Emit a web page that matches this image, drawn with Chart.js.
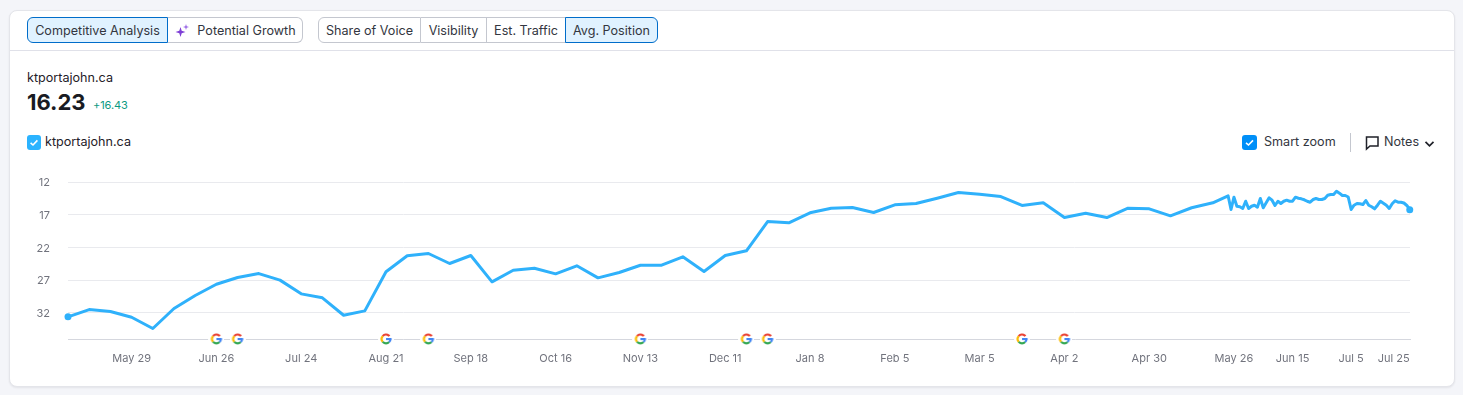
<!DOCTYPE html>
<html><head><meta charset="utf-8">
<script src="https://cdn.jsdelivr.net/npm/chart.js@4"></script>
<style>
html,body{margin:0;padding:0;width:1463px;height:395px;overflow:hidden;background:#f4f5f9;font-family:Inter,"Noto Sans",sans-serif;color:#1f2129}
.card{position:absolute;left:9px;top:10px;width:1444px;height:375px;background:#fff;border:1px solid #e4e5ea;border-radius:8px;box-shadow:0 1px 2px rgba(25,27,35,.08)}
.divider{position:absolute;left:10px;top:50px;width:1444px;height:1px;background:#e0e1e9}
.group{position:absolute;top:17px;height:26px;display:flex;font-size:12.6px;color:#333640}
.btn{box-sizing:border-box;height:26px;line-height:25px;border:1px solid #c4c7cf;border-left-width:0;text-align:center;background:#fff;white-space:nowrap}
.btn:first-child{border-left-width:1px;border-radius:6px 0 0 6px}
.btn:last-child{border-radius:0 6px 6px 0}
.btn.on{background:#e0f2ff;border:1px solid #006dca;margin-left:-1px}
.btn.on:first-child{margin-left:0}
.t{position:absolute;white-space:nowrap;line-height:1}
canvas{position:absolute;left:0;top:0}
</style></head><body>
<div class="card"></div><div class="divider"></div>
<div class="group" style="left:27px">
  <div class="btn on" style="width:141px">Competitive Analysis</div>
  <div class="btn" style="width:135px;padding-left:23px;position:relative"><svg style="position:absolute;left:7px;top:5px" width="15" height="15" viewBox="0 0 15 15"><path d="M5.5 4 L6.7 7.8 L10.5 9 L6.7 10.2 L5.5 14 L4.3 10.2 L.5 9 L4.3 7.8Z" fill="#7e3fd6"/><path d="M11 1 L11.7 3.3 L14 4 L11.7 4.7 L11 7 L10.3 4.7 L8 4 L10.3 3.3Z" fill="#9a68e6"/></svg>Potential Growth</div>
</div>
<div class="group" style="left:318px">
  <div class="btn" style="width:103px">Share of Voice</div>
  <div class="btn" style="width:66px">Visibility</div>
  <div class="btn" style="width:79px">Est. Traffic</div>
  <div class="btn on" style="width:93px">Avg. Position</div>
</div>
<div class="t" style="left:27px;top:72px;font-size:12.6px">ktportajohn.ca</div>
<div class="t" style="left:27px;top:91px;font-size:22px;font-weight:700;color:#191b23">16.23</div>
<div class="t" style="left:93px;top:100px;font-size:11px;letter-spacing:-.1px;color:#0b9a82">+16.43</div>
<svg style="position:absolute;left:27px;top:135px" width="14" height="15"><rect width="14" height="15" rx="3" fill="#2bb3ff"/><path d="M3.6 7.8 L6 10 L10.4 5.4" fill="none" stroke="#fff" stroke-width="1.6"/></svg>
<div class="t" style="left:45px;top:136px;font-size:12.6px">ktportajohn.ca</div>
<svg style="position:absolute;left:1242px;top:135px" width="15" height="15"><rect width="15" height="15" rx="3" fill="#008ff8"/><path d="M4 7.8 L6.5 10 L11 5.4" fill="none" stroke="#fff" stroke-width="1.6"/></svg>
<div class="t" style="left:1264px;top:136px;font-size:12.6px;color:#333640">Smart zoom</div>
<div style="position:absolute;left:1350px;top:133px;width:1px;height:19px;background:#c4c7cf"></div>
<svg style="position:absolute;left:1365px;top:135px" width="15" height="16"><path d="M1.5 2 H13 V11 H5 L1.5 14 Z" fill="none" stroke="#1f2129" stroke-width="1.5"/></svg>
<div class="t" style="left:1384px;top:136px;font-size:12.6px;color:#333640">Notes</div>
<svg style="position:absolute;left:1424px;top:140px" width="11" height="8"><path d="M1.5 1.8 L5.5 5.8 L9.5 1.8" fill="none" stroke="#1f2129" stroke-width="1.7"/></svg>
<canvas id="c" width="1463" height="395"></canvas>
<script>
// Weekly samples (May 8 .. May 21)
const weeklyDates = ["May 8","May 15","May 22","May 29","Jun 5","Jun 12","Jun 19","Jun 26","Jul 3","Jul 10","Jul 17","Jul 24","Jul 31","Aug 7","Aug 14","Aug 21","Aug 28","Sep 4","Sep 11","Sep 18","Sep 25","Oct 2","Oct 9","Oct 16","Oct 23","Oct 30","Nov 6","Nov 13","Nov 20","Nov 27","Dec 4","Dec 11","Dec 18","Dec 25","Jan 1","Jan 8","Jan 15","Jan 22","Jan 29","Feb 5","Feb 12","Feb 19","Feb 26","Mar 5","Mar 12","Mar 19","Mar 26","Apr 2","Apr 9","Apr 16","Apr 23","Apr 30","May 7","May 14","May 21"];
const weeklyValues = [32.61,31.5,31.8,32.67,34.4,31.34,29.35,27.63,26.6,26,27.0,29.1,29.7,32.37,31.7,25.73,23.28,22.93,24.46,23.24,27.26,25.49,25.18,26.04,24.81,26.65,25.84,24.72,24.72,23.44,25.69,23.24,22.52,18.04,18.24,16.71,16.0,15.9,16.66,15.49,15.29,14.48,13.6,13.87,14.22,15.59,15.18,17.43,16.77,17.43,16.0,16.1,17.17,15.94,15.18];
// Daily samples (May 24 .. Jul 25)
const dailyDates = ["May 24","May 25","May 26","May 27","May 28","May 29","May 30","May 31","Jun 1","Jun 2","Jun 3","Jun 4","Jun 5","Jun 6","Jun 7","Jun 8","Jun 9","Jun 10","Jun 11","Jun 12","Jun 13","Jun 14","Jun 15","Jun 16","Jun 17","Jun 18","Jun 19","Jun 20","Jun 21","Jun 22","Jun 23","Jun 24","Jun 25","Jun 26","Jun 27","Jun 28","Jun 29","Jun 30","Jul 1","Jul 2","Jul 3","Jul 4","Jul 5","Jul 6","Jul 7","Jul 8","Jul 9","Jul 10","Jul 11","Jul 12","Jul 13","Jul 14","Jul 15","Jul 16","Jul 17","Jul 18","Jul 19","Jul 20","Jul 21","Jul 22","Jul 23","Jul 24","Jul 25"];
const dailyValues = [14.11,16.2,14.32,15.70,15.79,16.05,14.94,16.05,15.70,15.55,15.85,14.52,15.94,15.18,14.42,14.78,15.59,14.94,15.29,14.94,14.78,14.94,14.94,14.32,14.48,14.57,14.72,14.94,15.09,14.68,14.52,14.68,14.68,14.52,14.02,13.91,13.91,13.41,13.71,14.06,14.06,14.29,16.2,15.55,15.29,15.33,15.44,14.83,15.55,15.79,16.1,15.55,14.94,15.24,15.55,16.05,15.33,14.87,15.09,15.09,15.21,15.59,16.23];
const xTickLabels = ["May 29","Jun 26","Jul 24","Aug 21","Sep 18","Oct 16","Nov 13","Dec 11","Jan 8","Feb 5","Mar 5","Apr 2","Apr 30","May 26","Jun 15","Jul 5","Jul 25"];
const yTickValues = [12,17,22,27,32];
const googleUpdates = ["Jun 26","Jul 3","Aug 21","Sep 4","Nov 13","Dec 18","Dec 25","Mar 19","Apr 2"];

// Smart zoom: the axis is measured in weeks, and the daily stretch runs at a fixed slot per day.
const dailyStart = 54.72, dailyStep = 0.1382, axisEnd = 63.3, yMin = 12, yMax = 36;
const weeklySlot = d => weeklyDates.indexOf(d);
const dailySlot = d => dailyStart + dailyDates.indexOf(d) * dailyStep;
// Tick and update dates before the daily stretch belong to the weekly part.
const tickSlot = (d, i) => i < 13 ? weeklySlot(d) : dailySlot(d);

const linePoints = weeklyValues.map((v, i) => ({x: i, y: v}))
  .concat(dailyValues.map((v, k) => ({x: dailySlot(dailyDates[k]), y: v})));
const updatePoints = googleUpdates.map(d => ({x: weeklySlot(d), y: yMax}));

function googleIcon(){
  const s = 16, c = document.createElement('canvas'); c.width = c.height = s;
  const g = c.getContext('2d'), m = s/2, r = 4.4;
  g.fillStyle = '#fff'; g.beginPath(); g.arc(m, m, 8, 0, 7); g.fill();
  g.lineWidth = 2.1;
  const arc = (a, b, col) => { g.strokeStyle = col; g.beginPath(); g.arc(m, m, r, a*Math.PI/180, b*Math.PI/180); g.stroke(); };
  arc(-140, -40, '#ea4335'); arc(140, 220, '#fbbc05'); arc(45, 140, '#34a853'); arc(-5, 45, '#4285f4');
  g.fillStyle = '#4285f4'; g.fillRect(m, m-1, r+1, 2.1);
  return c;
}
const icon = googleIcon();

const labelNudge = {
  id: 'labelNudge',
  beforeDraw(chart){
    const xItems = chart.scales.x.getLabelItems();
    const last = xItems[xItems.length - 1];
    if (last && !last.shifted){ last.options.translation[0] -= 16; last.shifted = true; }
    chart.scales.y.getLabelItems().forEach(it => {
      if (!it.shifted){ it.options.translation[1] += 1; it.shifted = true; }
    });
  }
};

new Chart(document.getElementById('c'), {
  type: 'line',
  data: { datasets: [
    { data: updatePoints, showLine: false, pointStyle: icon, pointRadius: 8, clip: false, order: 0 },
    { data: linePoints, borderColor: '#2fb1fb', backgroundColor: '#2fb1fb', borderWidth: 3,
      borderJoinStyle: 'round', tension: 0, clip: false, order: 1,
      pointBackgroundColor: '#2fb1fb', pointBorderWidth: 0,
      pointRadius: c => (c.dataIndex === 0 || c.dataIndex === linePoints.length - 1) ? 3.5 : 0 }
  ]},
  options: {
    responsive: false, animation: false,
    layout: { padding: { top: 182, right: 53, left: 0, bottom: 0 } },
    plugins: { legend: { display: false }, tooltip: { enabled: false } },
    scales: {
      x: { type: 'linear', min: 0, max: axisEnd,
        afterBuildTicks: s => { s.ticks = xTickLabels.map((d, i) => ({value: tickSlot(d, i), label: d})); },
        afterFit: s => { s.height = 56; },
        border: { color: '#d5d7de', width: 1 },
        grid: { display: false, drawTicks: false },
        ticks: { autoSkip: false, maxRotation: 0, minRotation: 0, padding: 13, color: '#71737d',
          font: { family: 'Inter', size: 11 },
          callback: function(v, i){ return xTickLabels[i]; } } },
      y: { reverse: true, min: yMin, max: yMax,
        afterBuildTicks: s => { s.ticks = yTickValues.concat([yMax]).map(v => ({value: v})); },
        afterFit: s => { s.width = 68; },
        border: { display: false },
        grid: { color: c => c.tick.value === yMax ? 'rgba(0,0,0,0)' : '#e9eaee', lineWidth: 1, drawTicks: false },
        ticks: { padding: 18, color: '#71737d', font: { family: 'Inter', size: 11 },
          callback: v => yTickValues.includes(v) ? String(v) : '' } }
    }
  },
  plugins: [labelNudge]
});
</script>
</body></html>
